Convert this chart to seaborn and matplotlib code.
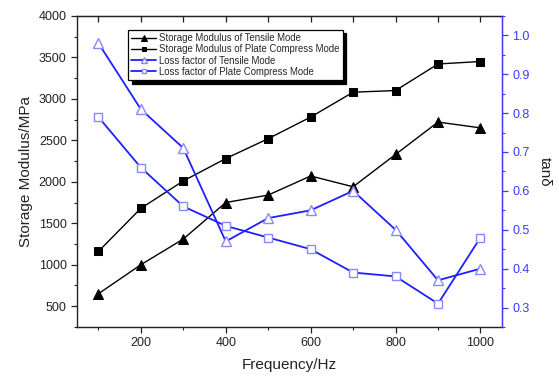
import matplotlib
matplotlib.use("Agg")
import matplotlib.pyplot as plt
import seaborn as sns
import pandas as pd
from matplotlib.ticker import MultipleLocator, FormatStrFormatter, NullFormatter

freq = [100, 200, 300, 400, 500, 600, 700, 800, 900, 1000]
sm_tensile = [650, 1000, 1310, 1750, 1840, 2070, 1940, 2330, 2720, 2650]
sm_plate = [1160, 1680, 2010, 2280, 2520, 2780, 3080, 3100, 3420, 3450]
lf_tensile = [0.98, 0.81, 0.71, 0.47, 0.53, 0.55, 0.60, 0.50, 0.37, 0.40]
lf_plate = [0.79, 0.66, 0.56, 0.51, 0.48, 0.45, 0.39, 0.38, 0.31, 0.48]

names = ["Storage Modulus of Tensile Mode",
         "Storage Modulus of Plate Compress Mode",
         "Loss factor of Tensile Mode",
         "Loss factor of Plate Compress Mode"]

sns.set_style("ticks")
plt.rcParams['font.family'] = ['Liberation Sans', 'DejaVu Sans']

fig = plt.figure(figsize=(5.59, 3.78), dpi=100)
ax = fig.add_axes([0.138, 0.135, 0.7595, 0.823])
ax2 = ax.twinx()

blue = "#1f1fff"
light = "#8888ff"
axblue = "#3a3aff"
dark = "#222222"

df1 = pd.DataFrame({"f": freq, "v": sm_tensile})
df2 = pd.DataFrame({"f": freq, "v": sm_plate})
df3 = pd.DataFrame({"f": freq, "v": lf_tensile})
df4 = pd.DataFrame({"f": freq, "v": lf_plate})

sns.lineplot(data=df1, x="f", y="v", ax=ax, color="black", lw=1.0, marker="^",
             markersize=7, markeredgecolor="black", markerfacecolor="black", label=names[0], legend=False)
sns.lineplot(data=df2, x="f", y="v", ax=ax, color="black", lw=1.0, marker="s",
             markersize=5.5, markeredgecolor="black", markerfacecolor="black", label=names[1], legend=False)
sns.lineplot(data=df3, x="f", y="v", ax=ax2, color=blue, lw=1.3, marker="^",
             markersize=7.5, markeredgecolor=light, markerfacecolor="white", markeredgewidth=1.0, label=names[2], legend=False)
sns.lineplot(data=df4, x="f", y="v", ax=ax2, color=blue, lw=1.3, marker="s",
             markersize=6, markeredgecolor=light, markerfacecolor="white", markeredgewidth=1.0, label=names[3], legend=False)

ax.set_xlim(50, 1050)
ax.set_ylim(250, 4000)
ax2.set_ylim(0.25, 1.05)

ax.xaxis.set_major_locator(MultipleLocator(200))
ax.xaxis.set_minor_locator(MultipleLocator(100))
ax.yaxis.set_major_locator(MultipleLocator(500))
ax.yaxis.set_minor_locator(MultipleLocator(250))
ax2.yaxis.set_major_locator(MultipleLocator(0.1))
ax2.yaxis.set_minor_locator(MultipleLocator(0.05))

ax.tick_params(axis='both', which='major', labelsize=9, length=4, width=0.9, colors=dark, direction='out')
ax.tick_params(axis='both', which='minor', length=2.5, width=0.8, colors=dark, direction='out')
ax2.tick_params(axis='y', which='major', labelsize=9, length=4, width=0.9, colors=axblue, direction='out')
ax2.tick_params(axis='y', which='minor', length=2.5, width=0.8, colors=axblue, direction='out')
ax2.yaxis.set_major_formatter(FormatStrFormatter('%.1f'))

# top ticks pointing inward
top = ax.secondary_xaxis('top')
top.xaxis.set_major_locator(MultipleLocator(200))
top.xaxis.set_minor_locator(MultipleLocator(100))
top.xaxis.set_major_formatter(NullFormatter())
top.tick_params(axis='x', which='major', direction='in', length=4, width=0.9, colors=dark)
top.tick_params(axis='x', which='minor', direction='in', length=4, width=0.9, colors=dark)
top.spines['top'].set_color(dark)

for s in ['left', 'bottom', 'top']:
    ax.spines[s].set_linewidth(1.0)
    ax.spines[s].set_color(dark)
ax2.spines['right'].set_color(axblue)
ax2.spines['right'].set_linewidth(1.0)
ax2.spines['left'].set_visible(False)
ax2.spines['top'].set_visible(False)
ax2.spines['bottom'].set_visible(False)

ax.set_xlabel("Frequency/Hz", fontsize=11, color=dark, labelpad=6)
ax.set_ylabel("Storage Modulus/MPa", fontsize=11, color=dark, labelpad=4)
ax2.set_ylabel("tanδ", fontsize=11, color=dark, rotation=270, labelpad=16)

h1, l1 = ax.get_legend_handles_labels()
h2, l2 = ax2.get_legend_handles_labels()
leg = ax2.legend(h1 + h2, l1 + l2, loc='upper left', bbox_to_anchor=(0.12, 0.955),
                 borderaxespad=0, fontsize=6.9, frameon=True, fancybox=False,
                 shadow={'color': 'black', 'alpha': 1.0, 'ox': 2.5, 'oy': -2.5},
                 handlelength=2.6, handletextpad=0.3, labelspacing=0.12,
                 borderpad=0.35, edgecolor='black', markerscale=0.6)
leg.get_frame().set_linewidth(0.9)

fig.savefig("out.png", dpi=100)
